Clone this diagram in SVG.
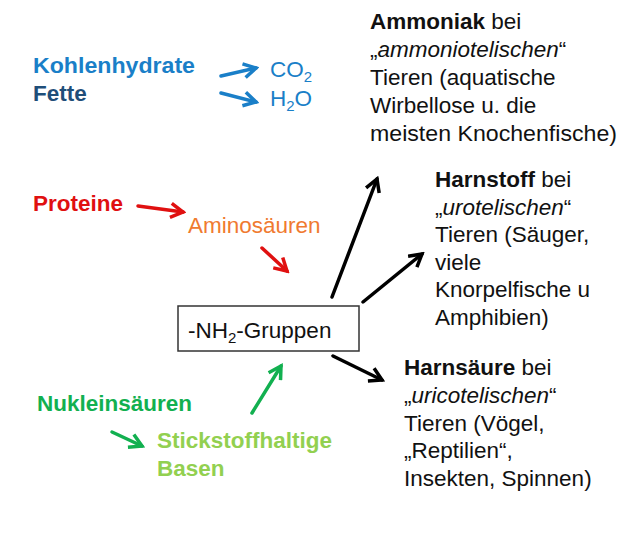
<svg xmlns="http://www.w3.org/2000/svg" width="628" height="549" viewBox="0 0 628 549">
<style>
text{font-family:"Liberation Sans",Arial,sans-serif;font-size:22.5px}
.b{font-weight:bold}
.k{fill:#111}
.a{fill:none;stroke-width:3.5;stroke-linecap:round}
</style>
<defs>
<marker id="hb" viewBox="0 0 10 10" refX="8" refY="5" markerWidth="5" markerHeight="5" orient="auto"><path d="M1,1 L8,5 L1,9" fill="none" stroke="#1a7fc8" stroke-width="2"/></marker>
<marker id="hr" viewBox="0 0 10 10" refX="8" refY="5" markerWidth="5" markerHeight="5" orient="auto"><path d="M1,1 L8,5 L1,9" fill="none" stroke="#e01010" stroke-width="2"/></marker>
<marker id="hg" viewBox="0 0 10 10" refX="8" refY="5" markerWidth="5" markerHeight="5" orient="auto"><path d="M1,1 L8,5 L1,9" fill="none" stroke="#12b050" stroke-width="2"/></marker>
<marker id="hk" viewBox="0 0 10 10" refX="8" refY="5" markerWidth="5" markerHeight="5" orient="auto"><path d="M1,1 L8,5 L1,9" fill="none" stroke="#000" stroke-width="2"/></marker>
</defs>
<rect width="628" height="549" fill="#fff"/>
<g id="kh"><text x="33" y="73" class="b" fill="#1a7fc8" textLength="162" lengthAdjust="spacingAndGlyphs">Kohlenhydrate</text><text x="33" y="101" class="b" fill="#1f4e79">Fette</text></g>
<g id="co2"><text x="270" y="77" fill="#1a7fc8">CO<tspan font-size="15" dy="5">2</tspan></text></g>
<g id="h2o"><text x="270" y="106" fill="#1a7fc8">H<tspan font-size="15" dy="5">2</tspan><tspan dy="-5">O</tspan></text></g>
<g id="ammoniak" class="k"><text x="370" y="29"><tspan class="b">Ammoniak</tspan> bei</text><text x="370" y="57">„<tspan font-style="italic">ammoniotelischen</tspan>“</text><text x="370" y="85">Tieren (aquatische</text><text x="370" y="113">Wirbellose u. die</text><text x="370" y="141" textLength="247" lengthAdjust="spacingAndGlyphs">meisten Knochenfische)</text></g>
<g id="harnstoff" class="k"><text x="435" y="187"><tspan class="b">Harnstoff</tspan> bei</text><text x="435" y="215">„<tspan font-style="italic">urotelischen</tspan>“</text><text x="435" y="242">Tieren (Säuger,</text><text x="435" y="270">viele</text><text x="435" y="297">Knorpelfische u</text><text x="435" y="325">Amphibien)</text></g>
<g id="harnsaeure" class="k"><text x="404" y="375"><tspan class="b">Harnsäure</tspan> bei</text><text x="404" y="403">„<tspan font-style="italic">uricotelischen</tspan>“</text><text x="404" y="431">Tieren (Vögel,</text><text x="404" y="458">„Reptilien“,</text><text x="404" y="486">Insekten, Spinnen)</text></g>
<g id="proteine"><text x="33" y="211" class="b" fill="#e01010">Proteine</text></g>
<g id="aminos"><text x="188" y="233" fill="#f07a30">Aminosäuren</text></g>
<g id="nh2"><rect x="178" y="306" width="181" height="45" fill="#fff" stroke="#333" stroke-width="1.5"/><text x="188" y="338" class="k">-NH<tspan font-size="15" dy="5">2</tspan><tspan dy="-5">-Gruppen</tspan></text></g>
<g id="nuk"><text x="37" y="411" class="b" fill="#12b050">Nukleinsäuren</text></g>
<g id="basen" class="b" fill="#92d050"><text x="157" y="448">Stickstoffhaltige</text><text x="157" y="476">Basen</text></g>
<g id="connectors">
<line x1="221" y1="76" x2="256" y2="68" class="a" stroke="#1a7fc8" marker-end="url(#hb)"/>
<line x1="221" y1="93" x2="256" y2="102" class="a" stroke="#1a7fc8" marker-end="url(#hb)"/>
<line x1="138" y1="206" x2="183" y2="212" class="a" stroke="#e01010" marker-end="url(#hr)"/>
<line x1="262" y1="248" x2="287" y2="271" class="a" stroke="#e01010" marker-end="url(#hr)"/>
<line x1="332" y1="297" x2="377" y2="179" class="a" stroke="#000" marker-end="url(#hk)"/>
<line x1="363" y1="302" x2="422" y2="254" class="a" stroke="#000" marker-end="url(#hk)"/>
<line x1="333" y1="356" x2="382" y2="380" class="a" stroke="#000" marker-end="url(#hk)"/>
<line x1="252" y1="413" x2="281" y2="366" class="a" stroke="#12b050" marker-end="url(#hg)"/>
<line x1="112" y1="432" x2="142" y2="446" class="a" stroke="#12b050" marker-end="url(#hg)"/>
</g>
</svg>
